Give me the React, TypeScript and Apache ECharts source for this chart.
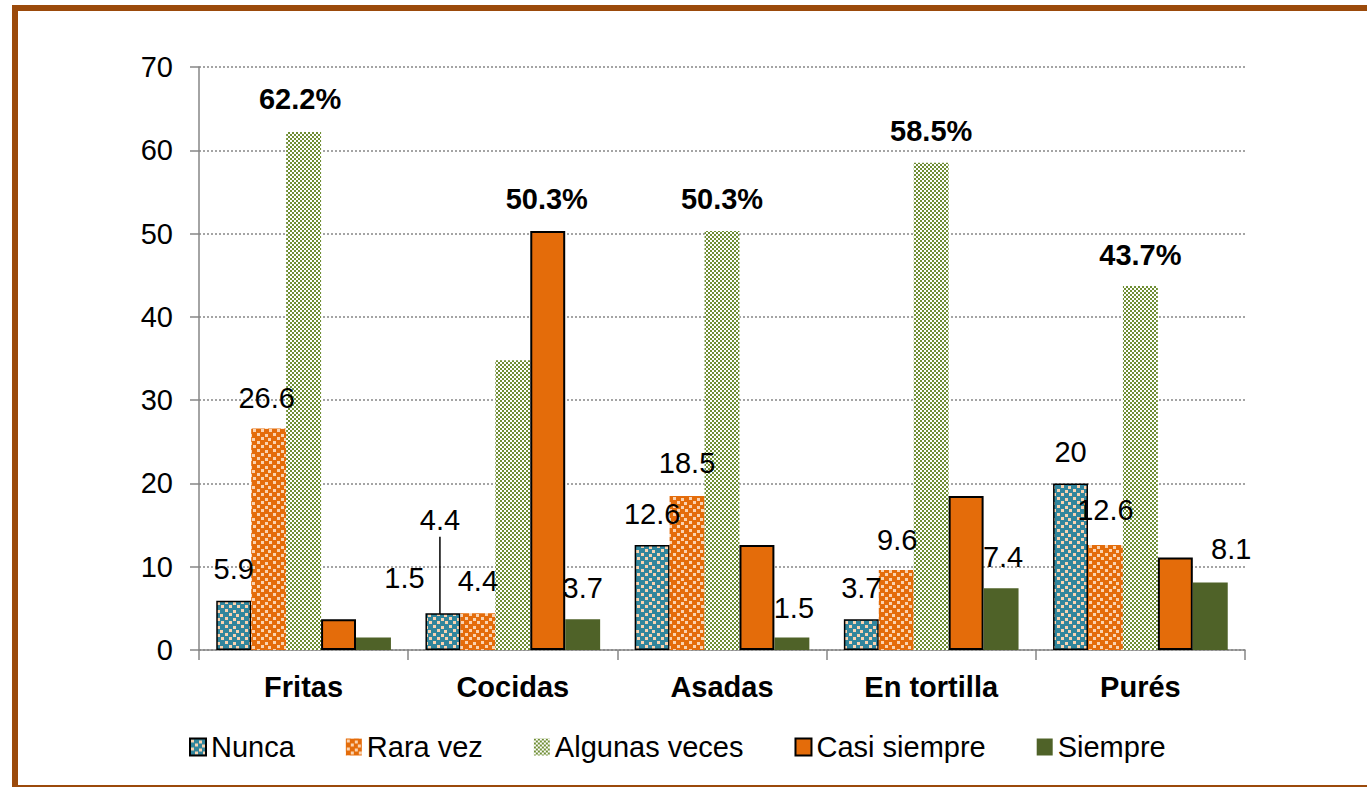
import React, { useEffect, useRef } from 'react';
import * as echarts from 'echarts';

// ---------- data ----------
const categories = ['Fritas', 'Cocidas', 'Asadas', 'En tortilla', 'Purés'];
const seriesNames = ['Nunca', 'Rara vez', 'Algunas veces', 'Casi siempre', 'Siempre'];
const nunca = [5.9, 4.4, 12.6, 3.7, 20];
const raraVez = [26.6, 4.4, 18.5, 9.6, 12.6];
const algunasVeces = [62.2, 34.8, 50.3, 58.5, 43.7];
const casiSiempre = [3.7, 50.3, 12.6, 18.5, 11.1];
const siempre = [1.5, 3.7, 1.5, 7.4, 8.1];
const yMin = 0;
const yMax = 70;
const yStep = 10;

// label kind per point: 'plain' number, 'pct' bold percentage, 'none' hidden
const nuncaKinds = ['plain', 'plain', 'plain', 'plain', 'plain'];
const raraKinds = ['plain', 'plain', 'plain', 'plain', 'plain'];
const algunasKinds = ['pct', 'none', 'pct', 'pct', 'pct'];
const casiKinds = ['none', 'pct', 'none', 'none', 'none'];
const siempreKinds = ['plain', 'plain', 'plain', 'plain', 'plain'];

// ---------- presentation ----------
const FONT = "'Liberation Sans', Arial, sans-serif";
const AXIS_GRAY = '#868686';
const nuncaOffsets = [[0, 0], [0, 0], [-14, -3.5], [0, 0], [-15, -1.5]];
const raraOffsets = [[-2, 1], [0, -1], [0, -1], [1, 1.5], [0, -3.5]];
const algunasOffsets = [[-3.5, -1], [0, 0], [0, -1], [0, 0], [0, 0]];
const casiOffsets = [[0, 0], [-1, -1], [0, 0], [0, 0], [0, 0]];
const siempreOffsets = [[31, -28], [0, 0], [2, 2], [2, 0], [21, -2.5]];

function makeTile(w: number, h: number, bg: string, fg: string, rects: number[][]) {
  const c = document.createElement('canvas');
  c.width = w;
  c.height = h;
  const ctx = c.getContext('2d')!;
  ctx.fillStyle = bg;
  ctx.fillRect(0, 0, w, h);
  ctx.fillStyle = fg;
  rects.forEach(([x, y, rw, rh]) => ctx.fillRect(x, y, rw, rh));
  return { image: c, repeat: 'repeat', imageWidth: w, imageHeight: h } as any;
}

function buildItems(values: number[], kinds: string[], offsets: number[][]) {
  return values.map((v, i) => {
    const k = kinds[i];
    if (k === 'none') return { value: v, label: { show: false } };
    return {
      value: v,
      label: {
        show: true,
        fontWeight: k === 'pct' ? 'bold' : 'normal',
        formatter: k === 'pct' ? v.toFixed(1) + '%' : String(v),
        offset: offsets[i],
      },
    };
  });
}

export default function App() {
  const ref = useRef<HTMLDivElement>(null);

  useEffect(() => {
    document.body.style.margin = '0';
    if (!ref.current) return;
    const chart = echarts.init(ref.current, undefined, { renderer: 'svg' });

    const confetti = [
      [1, 1, 3, 3], [9, 2, 3, 3], [5, 5, 3, 3], [12, 6, 3, 3],
      [1, 9, 3, 3], [9, 10, 3, 3], [5, 13, 3, 3], [13, 13, 3, 3],
    ];
    const tealPattern = makeTile(16, 16, '#31859C', '#FAD3B0', confetti);
    const orangePattern = makeTile(16, 16, '#E46C0A', '#FAD3B0', confetti);
    const checkPattern = makeTile(4, 4, '#FFFFFF', '#6F8E34', [[0, 0, 2, 2], [2, 2, 2, 2]]);

    const baseLabel = {
      show: true,
      position: 'top',
      distance: 15,
      color: '#000',
      fontSize: 29,
      lineHeight: 33,
      fontFamily: FONT,
    };

    const nuncaItems: any[] = buildItems(nunca, nuncaKinds, nuncaOffsets);
    nuncaItems[1].labelLine = { show: true, lineStyle: { color: '#000', width: 1.5 } };

    const common = {
      type: 'bar',
      barGap: '0%',
      barCategoryGap: '16.5%',
      label: baseLabel,
    };

    const option: any = {
      animation: false,
      backgroundColor: '#ffffff',
      textStyle: { fontFamily: FONT },
      grid: { left: 199, right: 122, top: 67, bottom: 137, containLabel: false, outerBoundsMode: 'none' },
      legend: {
        data: seriesNames,
        left: 184,
        top: 727,
        icon: 'rect',
        itemWidth: 16,
        itemHeight: 17,
        itemGap: 51,
        textStyle: { fontSize: 29, fontFamily: FONT, color: '#000', lineHeight: 30 },
      },
      xAxis: {
        type: 'category',
        data: categories,
        axisLine: { lineStyle: { color: AXIS_GRAY, width: 1.5 } },
        axisTick: { show: true, length: 10, lineStyle: { color: AXIS_GRAY, width: 1.5 } },
        axisLabel: { color: '#000', fontSize: 29, fontWeight: 'bold', fontFamily: FONT, margin: 22 },
      },
      yAxis: {
        type: 'value',
        min: yMin,
        max: yMax,
        interval: yStep,
        axisLine: { show: true, lineStyle: { color: AXIS_GRAY, width: 1.5 } },
        axisTick: { show: true, length: 9, lineStyle: { color: AXIS_GRAY, width: 1.5 } },
        axisLabel: { color: '#000', fontSize: 29, fontFamily: FONT, margin: 26 },
        splitLine: { show: true, lineStyle: { color: AXIS_GRAY, width: 1.5, type: [2, 2] } },
      },
      graphic: [
        {
          type: 'rect',
          silent: true,
          z: 100,
          shape: { x: 15, y: 8, width: 1400, height: 780 },
          style: { fill: 'none', stroke: '#9b4a0b', lineWidth: 6 },
        },
      ],
      series: [
        {
          ...common,
          name: seriesNames[0],
          itemStyle: { color: tealPattern, borderColor: '#000', borderWidth: 1.5 },
          data: nuncaItems,
          labelLayout: (p: any) => (p.dataIndex === 1 ? { dx: -3, dy: -61.5 } : {}),
        },
        {
          ...common,
          name: seriesNames[1],
          itemStyle: { color: orangePattern },
          data: buildItems(raraVez, raraKinds, raraOffsets),
        },
        {
          ...common,
          name: seriesNames[2],
          itemStyle: { color: checkPattern },
          data: buildItems(algunasVeces, algunasKinds, algunasOffsets),
        },
        {
          ...common,
          name: seriesNames[3],
          itemStyle: { color: '#E46C0A', borderColor: '#000', borderWidth: 2 },
          data: buildItems(casiSiempre, casiKinds, casiOffsets),
        },
        {
          ...common,
          name: seriesNames[4],
          itemStyle: { color: '#4F6228' },
          data: buildItems(siempre, siempreKinds, siempreOffsets),
        },
      ],
    };

    chart.setOption(option);
    return () => chart.dispose();
  }, []);

  return (
    <div
      ref={ref}
      style={{ position: 'fixed', left: 0, top: 0, width: 1367, height: 787, background: '#fff' }}
    />
  );
}
